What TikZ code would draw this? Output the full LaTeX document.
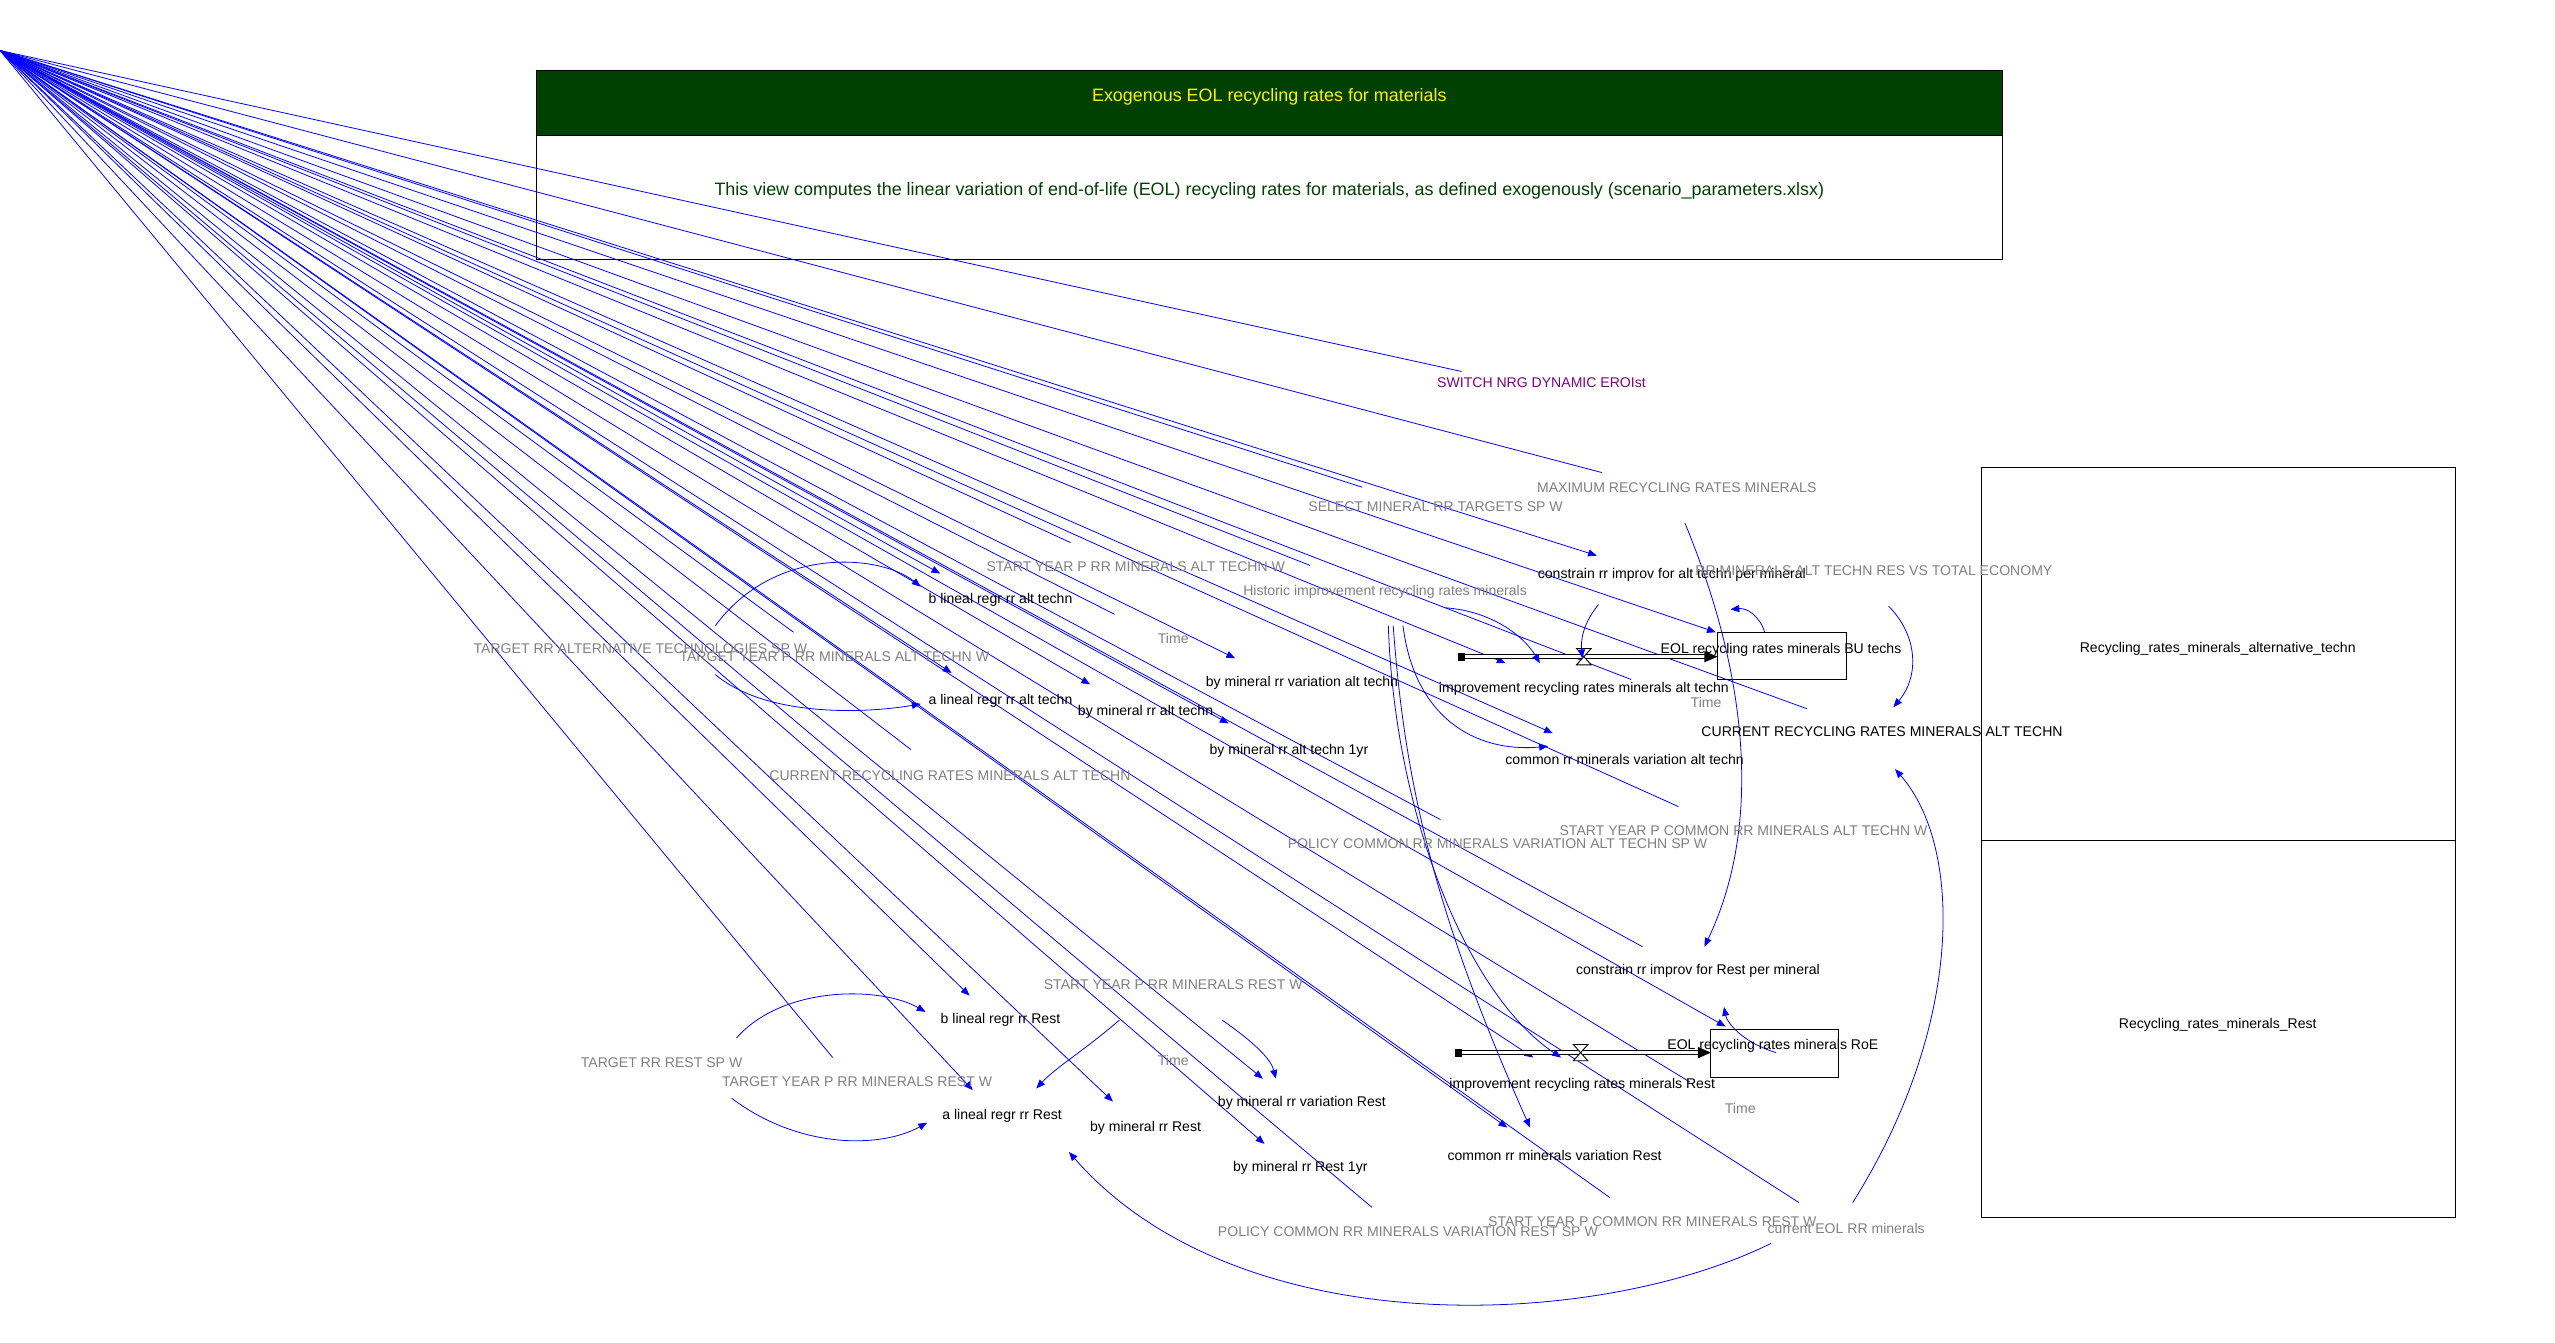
\documentclass[tikz,border=0pt]{standalone}
\usepackage{fontspec}
\setmainfont{Liberation Sans}
\usetikzlibrary{arrows.meta}
\definecolor{hdrgreen}{RGB}{0,64,0}
\definecolor{lkblue}{RGB}{0,0,255}
\definecolor{shgray}{RGB}{128,128,128}
\definecolor{swpurple}{RGB}{128,0,128}
\begin{document}
\begin{tikzpicture}[x=0.0326cm,y=-0.0326cm,
  var/.style={font=\fontsize{8}{9}\selectfont,inner sep=0pt,text=black},
  ghost/.style={var,text=shgray},
  lk/.style={draw=lkblue,line width=0.45pt},
  lka/.style={lk,-{Triangle[length=5pt,width=4pt]}},
  pipe/.style={draw=black,double=white,double distance=2pt,line width=0.6pt},
  boxline/.style={draw=black,line width=0.6pt}
]
\useasboundingbox (0,0) rectangle (1568,824);
% header
\fill[hdrgreen] (329,43) rectangle (1229,83);
\draw[boxline] (329,43) rectangle (1229,159);
\draw[boxline] (329,83) -- (1229,83);
\node[font=\fontsize{10.2}{12}\selectfont,text=yellow,inner sep=0pt] (title) at (779,59.5) {Exogenous EOL recycling rates for materials};
% right boxes
\draw[boxline] (1216,287) rectangle (1507,747);
\draw[boxline] (1216,516) -- (1507,516);
% origin of fan
\coordinate (O) at (0,31);
\foreach \x/\y [count=\i] in {897/228,983/290,836/299,1109/435,1001/417,804/347,1030/495,657/333,684/377,487/388,559/460,1037/664,1008/581,1104/738,988/735,842/741,511/649,884/503}
  {\coordinate (f\i) at (\x,\y);}
\foreach \x/\y [count=\i] in {980/341,1053/388,924/407,953/450,758/404,754/444,669/420,577/352,584/413,1059/630,925/692,776/702,683/676,595/611,597/669,941/649,775/662}
  {\coordinate (g\i) at (\x,\y);}
\foreach \i in {1,...,18} {\draw[lk] (O) -- (f\i);}
\foreach \i in {1,...,17} {\draw[lka] (O) -- (g\i);}
% description text
\node[font=\fontsize{10.2}{12}\selectfont,text=hdrgreen,inner sep=0pt] (desc) at (779,117) {This view computes the linear variation of end-of-life (EOL) recycling rates for materials, as defined exogenously (scenario\_parameters.xlsx)};
% stocks
\draw[boxline] (1054,388) rectangle (1133,417);
\draw[boxline] (1050,632) rectangle (1128,661);
% pipes
\coordinate (pa0) at (897,403); \coordinate (pa1) at (1050,403);
\coordinate (pr0) at (895,646); \coordinate (pr1) at (1046,646);
\draw[pipe] (pa0) -- (pa1);
\draw[pipe] (pr0) -- (pr1);
\fill (1054,403) -- (1046,399.5) -- (1046,406.5) -- cycle;
\fill (1050,646) -- (1042,642.5) -- (1042,649.5) -- cycle;
\fill (895,400.5) rectangle (899,405.5);
\fill (893,643.5) rectangle (897,648.5);
\draw[fill=white,line width=0.5pt] (967.5,398) -- (976.5,398) -- (967.5,408) -- (976.5,408) -- cycle;
\draw[fill=white,line width=0.5pt] (965.5,641) -- (974.5,641) -- (965.5,651) -- (974.5,651) -- cycle;
% curved links
\draw[lka] (439,384) .. controls (475,335) and (540,340) .. (565,360);
\draw[lka] (439,414) .. controls (470,440) and (530,438) .. (565,432);
\draw[lka] (887,373) .. controls (915,375) and (935,390) .. (945,407);
\draw[lka] (981,371) .. controls (972,382) and (970,392) .. (971,404);
\draw[lka] (1083,388) .. controls (1080,378) and (1072,373) .. (1062,374);
\draw[lka] (1159,372) .. controls (1177,390) and (1178,415) .. (1162,434);
\draw[lka] (1034,321) .. controls (1075,420) and (1080,510) .. (1046,581);
\draw[lka] (1137,738) .. controls (1205,630) and (1205,520) .. (1163,472);
\draw[lka] (1087,763) .. controls (980,816) and (760,826) .. (656,707);
\draw[lka] (452,637) .. controls (480,605) and (540,605) .. (568,621);
\draw[lka] (449,674) .. controls (490,705) and (540,705) .. (569,689);
\draw[lka] (687,626) .. controls (665,645) and (648,655) .. (636,668);
\draw[lka] (750,626) .. controls (770,640) and (780,650) .. (783,662);
\draw[lka] (1090,646) .. controls (1070,640) and (1060,628) .. (1058,618);
\draw[lka] (861,384) .. controls (868,440) and (905,462) .. (950,458);
\draw[lka] (855,384) .. controls (862,480) and (880,560) .. (939,692);
\draw[lka] (852,384) .. controls (856,500) and (900,610) .. (958,649);
% variable names
\node[var,text=swpurple] (sw) at (946,235) {SWITCH NRG DYNAMIC EROIst};
\node[ghost] (maxrr) at (1029,299) {MAXIMUM RECYCLING RATES MINERALS};
\node[ghost] (selrr) at (881,311) {SELECT MINERAL RR TARGETS SP W};
\node[var] (conalt) at (1026,353) {constrain rr improv for alt techn per mineral};
\node[ghost] (rrres) at (1150,350) {RR MINERALS ALT TECHN RES VS TOTAL ECONOMY};
\node[ghost] (syalt) at (697,348) {START YEAR P RR MINERALS ALT TECHN W};
\node[ghost] (hist) at (850,363) {Historic improvement recycling rates minerals};
\node[var] (balt) at (614,368) {b lineal regr rr alt techn};
\node[ghost] (time1) at (720,392) {Time};
\node[ghost] (trralt) at (393,398) {TARGET RR ALTERNATIVE TECHNOLOGIES SP W};
\node[ghost] (tyalt) at (512,403) {TARGET YEAR P RR MINERALS ALT TECHN W};
\node[var] (eolbu) at (1093,399) {EOL recycling rates minerals BU techs};
\node[var] (bmvalt) at (799,419) {by mineral rr variation alt techn};
\node[var] (impalt) at (972,423) {improvement recycling rates minerals alt techn};
\node[var] (aalt) at (614,430) {a lineal regr rr alt techn};
\node[ghost] (time2) at (1047,431) {Time};
\node[var] (bmalt) at (703,437) {by mineral rr alt techn};
\node[var] (curalt) at (1155,449) {CURRENT RECYCLING RATES MINERALS ALT TECHN};
\node[var] (bm1alt) at (791,461) {by mineral rr alt techn 1yr};
\node[var] (comalt) at (997,466) {common rr minerals variation alt techn};
\node[ghost] (curaltg) at (583,476) {CURRENT RECYCLING RATES MINERALS ALT TECHN};
\node[ghost] (syc) at (1070,510) {START YEAR P COMMON RR MINERALS ALT TECHN W};
\node[ghost] (polalt) at (919,518) {POLICY COMMON RR MINERALS VARIATION ALT TECHN SP W};
\node[var] (conrest) at (1042,596) {constrain rr improv for Rest per mineral};
\node[ghost] (syrest) at (720,604) {START YEAR P RR MINERALS REST W};
\node[var] (brest) at (614,626) {b lineal regr rr Rest};
\node[var] (eolroe) at (1088,642) {EOL recycling rates minerals RoE};
\node[ghost] (trrrest) at (406,652) {TARGET RR REST SP W};
\node[ghost] (time3) at (720,651) {Time};
\node[ghost] (tyrest) at (526,664) {TARGET YEAR P RR MINERALS REST W};
\node[var] (imprest) at (971,666) {improvement recycling rates minerals Rest};
\node[var] (bmvrest) at (799,677) {by mineral rr variation Rest};
\node[var] (arest) at (615,685) {a lineal regr rr Rest};
\node[ghost] (time4) at (1068,680) {Time};
\node[var] (bmrest) at (703,692) {by mineral rr Rest};
\node[var] (comrest) at (954,709) {common rr minerals variation Rest};
\node[var] (bm1rest) at (798,717) {by mineral rr Rest 1yr};
\node[ghost] (sycrest) at (1014,750) {START YEAR P COMMON RR MINERALS REST W};
\node[ghost] (polrest) at (864,756) {POLICY COMMON RR MINERALS VARIATION REST SP W};
\node[ghost] (cureol) at (1133,754) {current EOL RR minerals};
\node[var] (viewalt) at (1361,398) {Recycling\_rates\_minerals\_alternative\_techn};
\node[var] (viewrest) at (1361,629) {Recycling\_rates\_minerals\_Rest};
\end{tikzpicture}
\end{document}
